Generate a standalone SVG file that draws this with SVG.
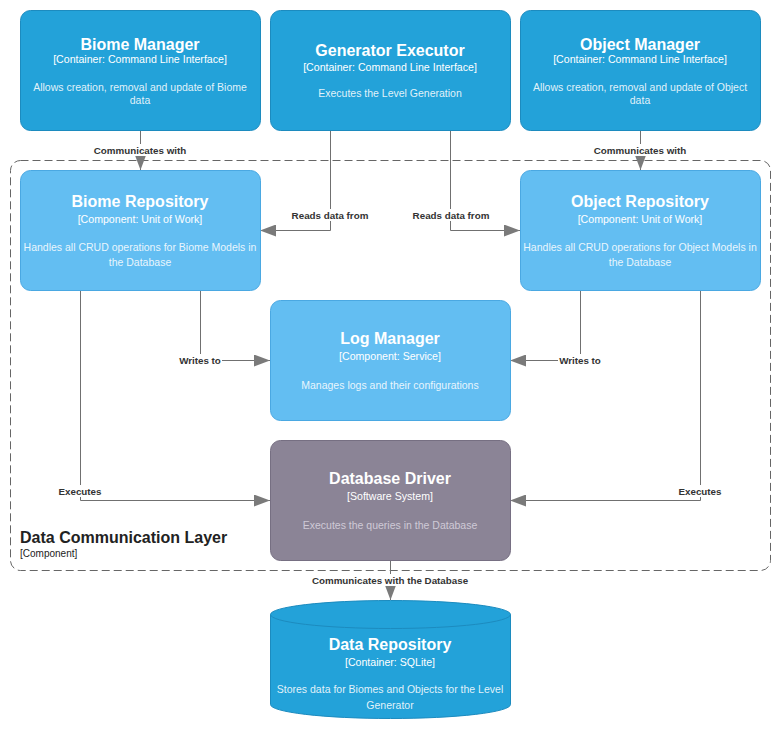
<svg xmlns="http://www.w3.org/2000/svg" width="781" height="731" viewBox="0 0 781 731">
<defs>
<style>
text{font-family:"Liberation Sans",Arial,sans-serif;text-anchor:middle}
.t{font-size:16px;font-weight:bold;fill:#fff}
.s{font-size:10.6px;fill:#fff}
.d{font-size:10.5px;fill:#fff;fill-opacity:0.88}
.dd{font-size:10.5px;fill:#cfcad6}
.c{fill:#23A2D9;stroke:#1C8BBF;stroke-width:1}
.p{fill:#63BEF2;stroke:#4AA8E2;stroke-width:1}
.x{fill:#8B8496;stroke:#766F82;stroke-width:1}
.ln{fill:none;stroke:#707070;stroke-width:1}
.lb{font-size:9.8px;font-weight:bold;fill:#333}
.bg{fill:#fff}
</style>
<marker id="ar" viewBox="0 0 16 12" refX="16" refY="6" markerWidth="16" markerHeight="12" markerUnits="userSpaceOnUse" orient="auto">
<path d="M0,0 L16,6 L0,12 Z" fill="#7a7a7a"/>
</marker>
</defs>
<rect width="781" height="731" fill="#fff"/>

<g id="boundary">
<rect x="10.5" y="160.5" width="760" height="410" rx="10" fill="none" stroke="#666" stroke-width="1" stroke-dasharray="8,4"/>
<text x="20" y="543" style="text-anchor:start;font-size:16px;font-weight:bold;fill:#222">Data Communication Layer</text>
<text x="20" y="557" style="text-anchor:start;font-size:10px;fill:#222">[Component]</text>
</g>

<g id="connectors">
<path class="ln" d="M140.5,130 V170" marker-end="url(#ar)"/>
<path class="ln" d="M640.5,130 V170" marker-end="url(#ar)"/>
<path class="ln" d="M330.5,130 V230.5 H260" marker-end="url(#ar)"/>
<path class="ln" d="M450.5,130 V230.5 H520" marker-end="url(#ar)"/>
<path class="ln" d="M200.5,290 V360.5 H270" marker-end="url(#ar)"/>
<path class="ln" d="M580.5,290 V360.5 H510" marker-end="url(#ar)"/>
<path class="ln" d="M80.5,290 V500.5 H270" marker-end="url(#ar)"/>
<path class="ln" d="M700.5,290 V500.5 H510" marker-end="url(#ar)"/>
<path class="ln" d="M390.5,560 V600" marker-end="url(#ar)"/>
<rect class="bg" x="91" y="144" width="98" height="12"/>
<text class="lb" x="140" y="154">Communicates with</text>
<rect class="bg" x="591" y="144" width="98" height="12"/>
<text class="lb" x="640" y="154">Communicates with</text>
<rect class="bg" x="292" y="209" width="76" height="12"/>
<text class="lb" x="330" y="219">Reads data from</text>
<rect class="bg" x="413" y="209" width="76" height="12"/>
<text class="lb" x="451" y="219">Reads data from</text>
<rect class="bg" x="178" y="354" width="44" height="12"/>
<text class="lb" x="200" y="364">Writes to</text>
<rect class="bg" x="558" y="354" width="44" height="12"/>
<text class="lb" x="580" y="364">Writes to</text>
<rect class="bg" x="58" y="485" width="45" height="12"/>
<text class="lb" x="80" y="495">Executes</text>
<rect class="bg" x="678" y="485" width="45" height="12"/>
<text class="lb" x="700" y="495">Executes</text>
<rect class="bg" x="309" y="574" width="162" height="12"/>
<text class="lb" x="390" y="584">Communicates with the Database</text>
</g>

<g id="biome-manager">
<rect class="c" x="20.5" y="10.5" width="240" height="120" rx="10"/>
<text class="t" x="140" y="50">Biome Manager</text>
<text class="s" x="140" y="63">[Container: Command Line Interface]</text>
<text class="d" x="140" y="91">Allows creation, removal and update of Biome</text>
<text class="d" x="140" y="104">data</text>
</g>

<g id="generator-executor">
<rect class="c" x="270.5" y="10.5" width="240" height="120" rx="10"/>
<text class="t" x="390" y="56">Generator Executor</text>
<text class="s" x="390" y="71">[Container: Command Line Interface]</text>
<text class="d" x="390" y="97">Executes the Level Generation</text>
</g>

<g id="object-manager">
<rect class="c" x="520.5" y="10.5" width="240" height="120" rx="10"/>
<text class="t" x="640" y="50">Object Manager</text>
<text class="s" x="640" y="63">[Container: Command Line Interface]</text>
<text class="d" x="640" y="91">Allows creation, removal and update of Object</text>
<text class="d" x="640" y="104">data</text>
</g>

<g id="biome-repository">
<rect class="p" x="20.5" y="170.5" width="240" height="120" rx="10"/>
<text class="t" x="140" y="207">Biome Repository</text>
<text class="s" x="140" y="223">[Component: Unit of Work]</text>
<text class="d" x="140" y="251">Handles all CRUD operations for Biome Models in</text>
<text class="d" x="140" y="266">the Database</text>
</g>

<g id="object-repository">
<rect class="p" x="520.5" y="170.5" width="240" height="120" rx="10"/>
<text class="t" x="640" y="207">Object Repository</text>
<text class="s" x="640" y="223">[Component: Unit of Work]</text>
<text class="d" x="640" y="251">Handles all CRUD operations for Object Models in</text>
<text class="d" x="640" y="266">the Database</text>
</g>

<g id="log-manager">
<rect class="p" x="270.5" y="300.5" width="240" height="120" rx="10"/>
<text class="t" x="390" y="344">Log Manager</text>
<text class="s" x="390" y="360">[Component: Service]</text>
<text class="d" x="390" y="389">Manages logs and their configurations</text>
</g>

<g id="database-driver">
<rect class="x" x="270.5" y="440.5" width="240" height="120" rx="10"/>
<text class="t" x="390" y="484">Database Driver</text>
<text class="s" x="390" y="500">[Software System]</text>
<text class="dd" x="390" y="529">Executes the queries in the Database</text>
</g>

<g id="data-repository">
<path class="c" d="M270.5,614.5 A120,14 0 0 1 510.5,614.5 V704.5 A120,14 0 0 1 270.5,704.5 Z"/>
<path d="M270.5,614.5 A120,14 0 0 0 510.5,614.5" fill="none" stroke="#1C8BBF" stroke-width="1"/>
<text class="t" x="390" y="650">Data Repository</text>
<text class="s" x="390" y="666">[Container: SQLite]</text>
<text class="d" x="390" y="693">Stores data for Biomes and Objects for the Level</text>
<text class="d" x="390" y="709">Generator</text>
</g>
</svg>
